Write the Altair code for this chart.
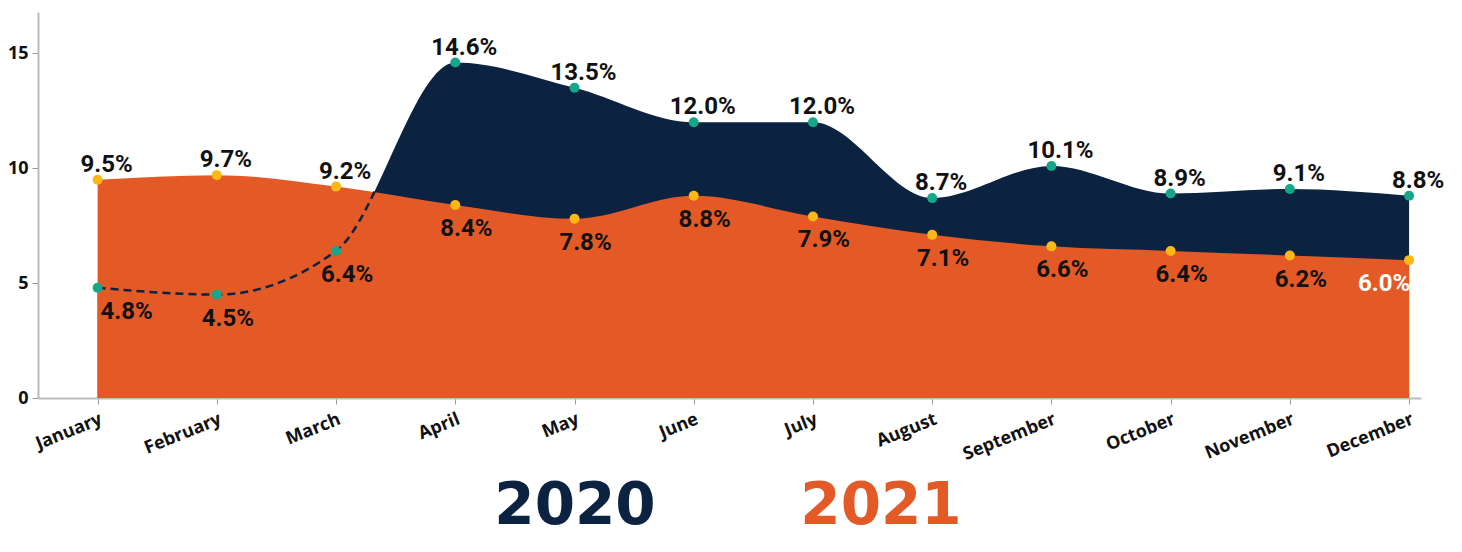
import json
import altair as alt
import pandas as pd

months = ["January", "February", "March", "April", "May", "June", "July",
          "August", "September", "October", "November", "December"]
v2020 = [4.8, 4.5, 6.4, 14.6, 13.5, 12.0, 12.0, 8.7, 10.1, 8.9, 9.1, 8.8]
v2021 = [9.5, 9.7, 9.2, 8.4, 7.8, 8.8, 7.9, 7.1, 6.6, 6.4, 6.2, 6.0]
series = ["2020", "2021"]

NAVY = "#0b2341"
ORANGE = "#e45a27"
TEAL = "#16a78b"
YELLOW = "#fcb814"

wide = pd.DataFrame({"idx": list(range(12)), "month": months, "v2020": v2020, "v2021": v2021})

rows = []
for i in range(12):
    for s, vals, other in (("2020", v2020, v2021), ("2021", v2021, v2020)):
        rows.append({"idx": i, "series": s, "value": vals[i],
                     "upper": vals[i] > other[i],
                     "label": f"{vals[i]:.1f}%"})
long = pd.DataFrame(rows)

W, H = 1383, 386
xscale = alt.Scale(domain=[-0.5, 11.1], nice=False, zero=False)
yscale = alt.Scale(domain=[0, 16.8], nice=False)

X = alt.X("idx:Q", scale=xscale, axis=alt.Axis(
    values=list(range(12)), labelExpr=f"{json.dumps(months)}[datum.value]",
    title=None, grid=False, labelAngle=338, labelAlign="right", labelBaseline="top",
    labelFont="Open Sans", labelFontWeight="bold", labelFontSize=18, labelColor="#111111",
    labelPadding=6, labelOverlap=False, labelFlush=False,
    domainColor="#bbbbbb", domainWidth=2, tickColor="#999999", tickSize=6))

base = alt.Chart(wide)

area20 = base.mark_area(color=NAVY, interpolate="monotone").encode(
    x=X,
    y=alt.Y("v2020:Q", scale=yscale, axis=alt.Axis(
        values=[0, 5, 10, 15], title=None, grid=False,
        labelFont="Open Sans", labelFontWeight="bold", labelFontSize=18, labelColor="#111111",
        labelPadding=4, domainColor="#bbbbbb", domainWidth=2, tickColor="#999999", tickSize=6)))

area21 = base.mark_area(color=ORANGE, interpolate="monotone").encode(
    x="idx:Q", y="v2021:Q")

dash = [8, 5] * 24 + [8, 4000]
dashed = base.mark_line(color=NAVY, strokeWidth=2.5, interpolate="monotone",
                        strokeDash=dash).encode(x="idx:Q", y="v2020:Q")

pts20 = base.mark_circle(color=TEAL, size=100, opacity=1).encode(x="idx:Q", y="v2020:Q")
pts21 = base.mark_circle(color=YELLOW, size=100, opacity=1).encode(x="idx:Q", y="v2021:Q")

lbase = alt.Chart(long)
FONT = "Liberation Sans Narrow, Roboto, sans-serif"
tx = dict(font=FONT, fontWeight="bold", fontSize=24, color="#111111", align="center",
          baseline="alphabetic")

lab_up = lbase.transform_filter("datum.upper").mark_text(dx=9, dy=-8, **tx).encode(
    x="idx:Q", y="value:Q", text="label:N")
lab_dn = lbase.transform_filter("!datum.upper && datum.idx > 0 && datum.idx < 11").mark_text(
    dx=11, dy=31, **tx).encode(x="idx:Q", y="value:Q", text="label:N")
lab_jan = lbase.transform_filter("!datum.upper && datum.idx == 0").mark_text(
    dx=29, dy=31, **tx).encode(x="idx:Q", y="value:Q", text="label:N")
tx_w = dict(tx)
tx_w["color"] = "#ffffff"
lab_dec = lbase.transform_filter("!datum.upper && datum.idx == 11").mark_text(
    dx=-25, dy=31, **tx_w).encode(x="idx:Q", y="value:Q", text="label:N")

leg_df = pd.DataFrame({"series": series})
LEGFONT = dict(font="DejaVu Sans", fontWeight="bold", fontSize=58, align="center",
               baseline="alphabetic")
leg20 = alt.Chart(leg_df).transform_filter("datum.series == '2020'").mark_text(
    color=NAVY, **LEGFONT).encode(x=alt.value(537), y=alt.value(512), text="series:N")
leg21 = alt.Chart(leg_df).transform_filter("datum.series == '2021'").mark_text(
    color=ORANGE, **LEGFONT).encode(x=alt.value(843), y=alt.value(512), text="series:N")

chart = alt.layer(area20, area21, dashed, pts20, pts21, lab_up, lab_dn, lab_jan, lab_dec,
                  leg20, leg21).properties(
    width=W, height=H,
    autosize=alt.AutoSizeParams(type="none"),
    padding={"left": 30, "top": 4, "right": 33, "bottom": 146},
).configure_view(stroke=None)

chart.save("out.html", embed_options={"renderer": "svg", "actions": False})
